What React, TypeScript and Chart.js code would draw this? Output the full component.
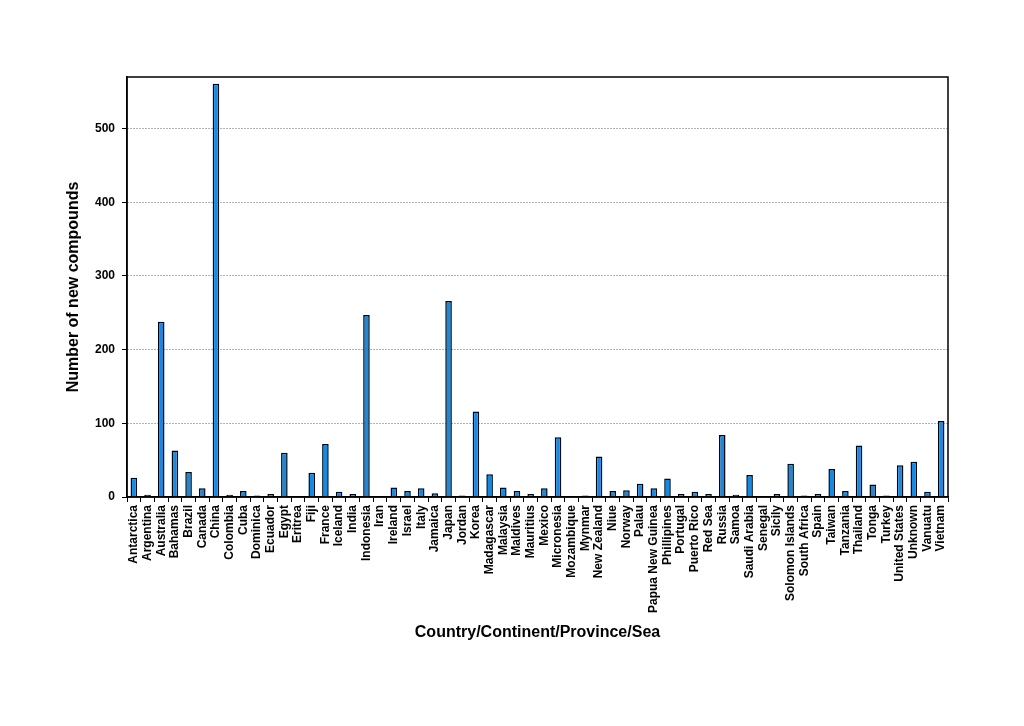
import React, { useEffect, useRef } from "react";
import { Chart, registerables } from "chart.js";

Chart.register(...registerables);

const categories: string[] = [
  "Antarctica", "Argentina", "Australia", "Bahamas", "Brazil", "Canada", "China", "Colombia", "Cuba", "Dominica",
  "Ecuador", "Egypt", "Eritrea", "Fiji", "France", "Iceland", "India", "Indonesia", "Iran", "Ireland",
  "Israel", "Italy", "Jamaica", "Japan", "Jordan", "Korea", "Madagascar", "Malaysia", "Maldives", "Mauritius",
  "Mexico", "Micronesia", "Mozambique", "Mynmar", "New Zealand", "Niue", "Norway", "Palau", "Papua New Guinea", "Phillipines",
  "Portugal", "Puerto Rico", "Red Sea", "Russia", "Samoa", "Saudi Arabia", "Senegal", "Sicily", "Solomon Islands", "South Africa",
  "Spain", "Taiwan", "Tanzania", "Thailand", "Tonga", "Turkey", "United States", "Unknown", "Vanuatu", "Vietnam",
];

const compounds: number[] = [
  26, 3, 238, 63, 34, 12, 561, 3, 8, 2,
  4, 60, 1, 33, 72, 7, 4, 247, 1, 13,
  8, 12, 5, 266, 2, 116, 31, 13, 8, 4,
  12, 81, 1, 2, 55, 8, 9, 18, 12, 25,
  4, 7, 4, 84, 3, 30, 1, 4, 45, 2,
  4, 38, 8, 70, 17, 2, 43, 48, 7, 103,
];

const yTicks: number[] = [0, 100, 200, 300, 400, 500];
const yMax = 570;

const FONT = "'Liberation Sans', Arial, sans-serif";

export default function App() {
  const ref = useRef<HTMLCanvasElement | null>(null);

  useEffect(() => {
    document.body.style.margin = "0";
    const canvas = ref.current;
    if (!canvas) return;

    const frame = {
      id: "frame",
      afterDatasetsDraw(chart: any) {
        const { ctx, chartArea } = chart;
        ctx.save();
        ctx.setLineDash([]);
        ctx.strokeStyle = "#000";
        ctx.lineWidth = 1.5;
        ctx.strokeRect(chartArea.left, chartArea.top, chartArea.right - chartArea.left, chartArea.bottom - chartArea.top);
        ctx.restore();
      },
    };

    const chart = new Chart(canvas, {
      type: "bar",
      data: {
        labels: categories,
        datasets: [
          {
            label: "Number of new compounds",
            data: compounds,
            backgroundColor: "#0A8CF0",
            borderColor: "#000",
            borderWidth: 1.5,
            barPercentage: 0.48,
            categoryPercentage: 1,
          },
        ],
      },
      options: {
        responsive: false,
        animation: false,
        devicePixelRatio: 1,
        layout: { padding: { left: 60, top: 77, right: 76, bottom: 80 } },
        plugins: { legend: { display: false }, tooltip: { enabled: false } },
        scales: {
          x: {
            offset: true,
            grid: {
              offset: true,
              drawOnChartArea: false,
              drawTicks: true,
              tickLength: 5,
              tickColor: "#000",
              tickWidth: 1,
            },
            border: { color: "#000", width: 1.5 },
            ticks: {
              autoSkip: false,
              maxRotation: 90,
              minRotation: 90,
              padding: 3,
              color: "#000",
              font: { family: FONT, size: 12, weight: "bold" },
            },
            title: {
              display: true,
              text: "Country/Continent/Province/Sea",
              color: "#000",
              font: { family: FONT, size: 16, weight: "bold" },
              padding: { top: 4, bottom: 4 },
            },
            afterFit(scale: any) {
              scale.height = 726 - 80 - 497;
            },
          },
          y: {
            min: 0,
            max: yMax,
            grid: {
              color: "#666",
              lineWidth: 1,
              drawTicks: true,
              tickLength: 5,
              tickColor: "#000",
              tickWidth: 1,
              tickBorderDash: [],
            },
            border: { color: "#000", width: 1.5, dash: [1, 2] },
            ticks: {
              stepSize: 100,
              padding: 7,
              color: "#000",
              font: { family: FONT, size: 12, weight: "bold" },
            },
            afterBuildTicks(axis: any) {
              axis.ticks = yTicks.map((v) => ({ value: v }));
            },
            title: {
              display: true,
              text: "Number of new compounds",
              color: "#000",
              font: { family: FONT, size: 16, weight: "bold" },
              padding: { top: 4, bottom: 4 },
            },
            afterFit(scale: any) {
              scale.width = 127 - 60;
            },
          },
        },
      },
      plugins: [frame],
    } as any);

    return () => chart.destroy();
  }, []);

  return (
    <div style={{ width: 1024, height: 726 }}>
      <canvas ref={ref} width={1024} height={726} style={{ display: "block" }} />
    </div>
  );
}
